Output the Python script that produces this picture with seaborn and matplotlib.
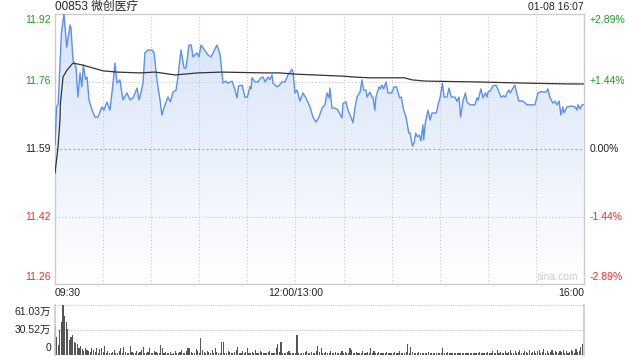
import numpy as np
import pandas as pd
import matplotlib
matplotlib.use("Agg")
import matplotlib.pyplot as plt
import matplotlib.transforms as mtransforms
from matplotlib.colors import LinearSegmentedColormap
import seaborn as sns

# ---------------- data ----------------
title = "00853 微创医疗"
stamp = "01-08 16:07"
prev_close = 11.59
price_ticks = [11.92, 11.755, 11.59, 11.425, 11.26]
price_labels = ["11.92", "11.76", "11.59", "11.42", "11.26"]
pct_labels = ["+2.89%", "+1.44%", "0.00%", "-1.44%", "-2.89%"]
time_labels = ["09:30", "12:00/13:00", "16:00"]
time_label_pos = [0, 150, 330]
vol_ticks = [61.03, 30.52, 0]
vol_labels = ["61.03万", "30.52万", "0"]

price_min = [0, 1, 2, 4, 5.6, 7.3, 9.4, 10, 11.2, 13.1, 14.3, 15.6, 16.7, 17.7, 19, 20, 21.2,
             23.1, 25, 26.8, 29.3, 30.5, 32.4, 34.3, 36.2, 37.4, 38.7, 40.5, 42.4, 44.9, 46.8,
             48.7, 51.2, 52.4, 53.6, 54.9, 56.1, 58, 60.5, 61.8, 63.6, 65.5, 66.7, 68.6, 70.5,
             72, 73.6, 75.5, 76.7, 78.6, 80.5, 81.7, 83.6, 85, 86.1, 88.6, 89.8, 91.1, 93.6,
             95.4, 97.3, 98.6, 101, 102.3, 103, 104.8, 106.5, 108, 110.4, 112, 113.5, 114.5,
             116.7, 118.5, 120, 121.6, 122.3, 122.9, 124.8, 126.6, 128.5, 129.8, 131, 132.9,
             134, 135.4, 136, 138.5, 140, 141.6, 143.5, 145.3, 146.6, 147.8, 148.5, 149.7,
             151, 152.8, 154.7, 156.5, 159.1, 160.9, 162.8, 164.7, 166.6, 168.4, 169.7, 171,
             171.5, 172.8, 174.7, 176.5, 179, 179.7, 181.5, 182.8, 184.6, 185.9, 187.1, 188.4,
             190.3, 191.5, 192.5, 194, 194.6, 196.5, 197.7, 198.4, 199.5, 200.2, 202.1, 203,
             204, 205, 206.5, 207.8, 210, 211.5, 213, 215, 216, 217.5, 219, 220.7, 221.5, 223,
             224, 225, 226, 227.3, 228.3, 229.5, 230, 231, 232.7, 234, 235.2, 238, 238.9,
             240.2, 241.7, 242.7, 244.5, 245.8, 247.2, 249.5, 250.7, 252, 253, 254.5, 256,
             257, 258.9, 262, 263.2, 264, 265.7, 267, 268.5, 269.5, 270.1, 271.5, 273.2,
             275.1, 276.5, 278.2, 279.8, 281, 281.9, 283.2, 284, 285.7, 286.9, 288, 289.4,
             292, 294.4, 299.4, 301.3, 303, 306.3, 307.5, 308.8, 310.7, 312, 313.2, 314.5,
             315.6, 316.8, 317.5, 319.4, 322.5, 324.4, 325.6, 326.3, 327.5, 328.8, 329.7]
price_val = [11.600, 11.693, 11.700, 11.874, 11.920, 11.839, 11.893, 11.885, 11.808, 11.790,
             11.717, 11.776, 11.742, 11.795, 11.760, 11.766, 11.710, 11.685, 11.668, 11.668,
             11.693, 11.685, 11.705, 11.685, 11.751, 11.800, 11.751, 11.759, 11.710, 11.727,
             11.710, 11.715, 11.739, 11.710, 11.727, 11.751, 11.825, 11.832, 11.832, 11.825,
             11.759, 11.710, 11.673, 11.698, 11.717, 11.705, 11.729, 11.734, 11.766, 11.832,
             11.788, 11.788, 11.844, 11.844, 11.815, 11.825, 11.815, 11.844, 11.830, 11.820,
             11.815, 11.825, 11.844, 11.830, 11.820, 11.751, 11.756, 11.751, 11.756, 11.739,
             11.715, 11.744, 11.746, 11.717, 11.717, 11.742, 11.737, 11.764, 11.754, 11.754,
             11.764, 11.766, 11.754, 11.766, 11.760, 11.771, 11.751, 11.742, 11.746, 11.754,
             11.754, 11.771, 11.778, 11.785, 11.778, 11.727, 11.734, 11.707, 11.727, 11.715,
             11.693, 11.668, 11.656, 11.668, 11.690, 11.698, 11.727, 11.715, 11.739, 11.690,
             11.690, 11.685, 11.666, 11.702, 11.705, 11.685, 11.668, 11.654, 11.690, 11.717,
             11.729, 11.759, 11.734, 11.734, 11.717, 11.729, 11.717, 11.717, 11.685, 11.717,
             11.742, 11.737, 11.746, 11.737, 11.754, 11.727, 11.727, 11.742, 11.742, 11.715,
             11.717, 11.685, 11.668, 11.629, 11.629, 11.597, 11.605, 11.629, 11.620, 11.624,
             11.610, 11.649, 11.612, 11.654, 11.685, 11.661, 11.678, 11.678, 11.698, 11.715,
             11.751, 11.717, 11.717, 11.739, 11.717, 11.717, 11.707, 11.717, 11.668, 11.707,
             11.727, 11.705, 11.698, 11.698, 11.715, 11.710, 11.737, 11.715, 11.727, 11.717,
             11.729, 11.732, 11.744, 11.746, 11.734, 11.717, 11.720, 11.717, 11.727, 11.734,
             11.727, 11.739, 11.746, 11.727, 11.707, 11.707, 11.698, 11.698, 11.727, 11.730,
             11.729, 11.737, 11.715, 11.702, 11.707, 11.698, 11.707, 11.673, 11.693, 11.678,
             11.693, 11.695, 11.693, 11.685, 11.698, 11.688, 11.698, 11.698]

avg_min = [0, 1.9, 3.1, 3.4, 5, 7.5, 11.2, 17.5, 23.7, 30, 38.7, 53, 62.4, 75, 89, 104,
           131, 140, 150, 180, 186, 196.5, 218, 222.7, 231, 262, 294, 321, 329.7]
avg_val = [11.531, 11.595, 11.661, 11.702, 11.766, 11.783, 11.800, 11.795, 11.788, 11.781,
           11.778, 11.776, 11.778, 11.771, 11.776, 11.778, 11.776, 11.776, 11.773, 11.768,
           11.766, 11.764, 11.764, 11.759, 11.756, 11.754, 11.751, 11.749, 11.749]

volume = [36, 22, 12, 30, 40, 61.03, 48, 40, 32, 18, 22, 24, 16, 15, 14, 9, 11, 7, 5, 8,
          6, 5, 4, 8, 6, 4, 9, 3, 7, 8,
          4, 11, 3, 5, 2, 3, 4, 6, 2, 3, 5, 8, 3, 10, 4, 2, 3, 11, 4, 3,
          2, 5, 3, 4, 6, 10, 3, 2, 4, 9,
          3, 2, 5, 4, 3, 3, 12, 9, 2, 4, 3, 2, 4, 1, 3, 5, 2, 3, 4, 6,
          2, 3, 5, 9, 8, 4, 2, 3, 7, 5,
          3, 21, 6, 4, 2, 5, 4, 3, 6, 3, 9, 4, 2, 3, 16, 16, 3, 2, 5, 4,
          2, 3, 4, 6, 10, 3, 2, 5, 3, 4,
          9, 3, 2, 4, 3, 6, 2, 3, 5, 4, 2, 3, 2, 4, 5, 3, 2, 3, 8, 13,
          4, 16, 3, 2, 3, 4, 5, 2, 3, 2,
          3, 24, 2, 1, 3, 2, 4, 5, 2, 3, 4, 2, 3, 5, 11, 4, 8, 2, 3, 4,
          2, 3, 5, 3, 2, 4, 3, 2, 3, 5,
          2, 4, 3, 2, 9, 6, 3, 2, 4, 3, 2, 3, 5, 2, 3, 4, 2, 8, 3, 5,
          3, 2, 4, 2, 3, 3, 2, 4, 3, 2,
          3, 2, 4, 2, 3, 5, 2, 3, 2, 4, 13, 3, 10, 4, 2, 3, 2, 4, 3, 2,
          2, 3, 2, 4, 3, 2, 3, 2, 3, 2,
          3, 2, 8, 3, 2, 4, 2, 3, 2, 2, 3, 2, 2, 3, 2, 3, 2, 2, 3, 2,
          2, 3, 2, 3, 2, 4, 2, 3, 2, 3,
          4, 3, 2, 5, 3, 2, 6, 3, 4, 2, 3, 5, 2, 4, 6, 3, 2, 5, 3, 4,
          6, 3, 2, 5, 4, 3, 6, 2, 4, 5,
          3, 5, 6, 2, 4, 7, 3, 5, 2, 4, 6, 3, 5, 4, 2, 5, 4, 6, 3, 5,
          2, 4, 6, 5, 3, 7, 4, 5, 10, 13]
vol_min = list(range(len(volume)))

# ---------------- style ----------------
sns.set_theme(style="white")
plt.rcParams["font.family"] = ["Liberation Sans", "Noto Sans CJK SC", "DejaVu Sans"]

GREEN = "#1a9e1a"
RED = "#f02c2c"
DARK = "#222222"
GRID = "#c8c8c8"
LINE = "#5b8ff0"

W, H = 640, 360
fig = plt.figure(figsize=(6.4, 3.6), dpi=100)
fig.patch.set_facecolor("white")
L, R = 55, 584
ax = fig.add_axes([L / W, 1 - 284 / H, (R - L) / W, (284 - 14) / H])
axv = fig.add_axes([L / W, 1 - 355 / H, (R - L) / W, (355 - 305) / H])

ymin, ymax = price_ticks[-1], price_ticks[0]
TMAX = 330

# price panel
df_p = pd.DataFrame({"t": price_min, "p": price_val})
df_a = pd.DataFrame({"t": avg_min, "p": avg_val})

poly = ax.fill_between(df_p["t"], df_p["p"], ymin, color="none", lw=0)
grad = np.linspace(0, 1, 256).reshape(-1, 1)
cmap = LinearSegmentedColormap.from_list("g", ["#ffffff", "#d6e3f9"])
img = ax.imshow(grad, extent=[0, TMAX, ymin, ymax], origin="lower", aspect="auto",
                cmap=cmap, zorder=1)
img.set_clip_path(poly.get_paths()[0], transform=ax.transData)

for tv in price_ticks[1:-1]:
    if tv == prev_close:
        ax.axhline(tv, color="#aaaaaa", lw=0.8, ls=(0, (2, 2)), zorder=2)
    else:
        ax.axhline(tv, color=GRID, lw=0.8, ls=(0, (1, 2)), zorder=2)
for m in range(30, TMAX, 30):
    ax.axvline(m, color=GRID, lw=0.8, ls=(0, (1, 2)), zorder=2)

sns.lineplot(data=df_p, x="t", y="p", ax=ax, color=LINE, lw=1.0, estimator=None,
             sort=False, zorder=4)
sns.lineplot(data=df_a, x="t", y="p", ax=ax, color="#333333", lw=0.9, estimator=None,
             sort=False, zorder=5)

ax.set_xlim(0, TMAX)
ax.set_ylim(ymin, ymax)
ax.set_xticks([])
ax.set_yticks([])
ax.set_xlabel("")
ax.set_ylabel("")
for s in ax.spines.values():
    s.set_color("#cccccc")
    s.set_linewidth(1.0)

ytr = ax.get_yaxis_transform()
colors = [GREEN, GREEN, DARK, RED, RED]
for i, (tv, lab, pl, c) in enumerate(zip(price_ticks, price_labels, pct_labels, colors)):
    dy = -6 if i == 0 else (7 if i == len(price_ticks) - 1 else 0)
    tl = mtransforms.offset_copy(ytr, fig=fig, x=-4, y=dy, units="dots")
    ax.text(0, tv, lab, transform=tl, ha="right", va="center", fontsize=7.5, color=c)
    tr = mtransforms.offset_copy(ytr, fig=fig, x=6, y=dy, units="dots")
    ax.text(1, tv, pl, transform=tr, ha="left", va="center", fontsize=7.5, color=c)

xtr = mtransforms.offset_copy(ax.get_xaxis_transform(), fig=fig, x=0, y=-9, units="dots")
for pos, lab, ha in zip(time_label_pos, time_labels, ["left", "center", "right"]):
    ax.text(pos, 0, lab, transform=xtr, ha=ha, va="center", fontsize=7.5, color=DARK)

ax.text(0.99, 0.025, "sina.com", transform=ax.transAxes, ha="right", va="center",
        fontsize=7.5, color="#cdcdcd")

fig.text(L / W, 1 - 7 / H, title, ha="left", va="center", fontsize=8.5, color=DARK)
fig.text(R / W, 1 - 7 / H, stamp, ha="right", va="center", fontsize=7.5, color=DARK)

# volume panel
df_v = pd.DataFrame({"t": vol_min, "v": volume})
sns.barplot(data=df_v, x="t", y="v", ax=axv, native_scale=True, color="#555555",
            width=0.7, errorbar=None, saturation=1, linewidth=0)
axv.set_xlim(0, TMAX)
axv.set_ylim(0, vol_ticks[0])
axv.set_xticks([])
axv.set_yticks([])
axv.set_xlabel("")
axv.set_ylabel("")
for tv in vol_ticks[:-1]:
    axv.axhline(tv, color=GRID, lw=0.8, ls=(0, (1, 1)), zorder=0)
for k in ["top", "bottom"]:
    axv.spines[k].set_visible(False)
for k in ["left", "right"]:
    axv.spines[k].set_color("#cccccc")
vtr = axv.get_yaxis_transform()
for i, (tv, lab) in enumerate(zip(vol_ticks, vol_labels)):
    dy = -7 if i == 0 else (7 if i == len(vol_ticks) - 1 else 0)
    tl = mtransforms.offset_copy(vtr, fig=fig, x=-4, y=dy, units="dots")
    axv.text(0, tv, lab, transform=tl, ha="right", va="center", fontsize=7.5, color=DARK)

fig.savefig("out.png", dpi=100, facecolor="white")
